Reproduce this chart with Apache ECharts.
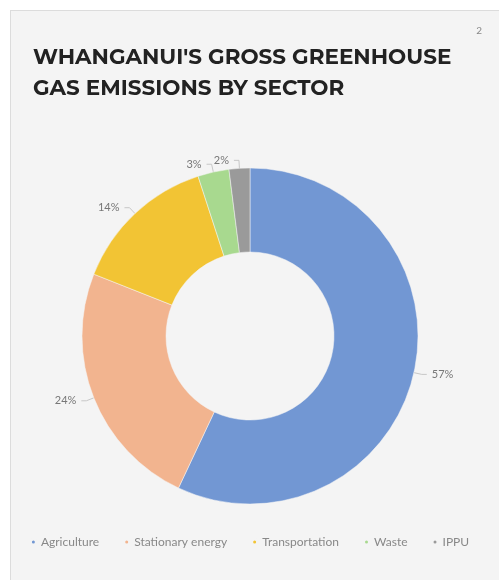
<!DOCTYPE html>
<html><head><meta charset="utf-8">
<script src="https://cdn.jsdelivr.net/npm/echarts@6/dist/echarts.min.js"></script>
<style>
html,body{margin:0;padding:0;background:#fff;}
#panel{position:absolute;left:10px;top:10px;width:495px;height:575px;background:#f4f4f4;border:1px solid #dcdcdc;box-sizing:border-box;}
#c{position:absolute;left:0;top:0;width:499px;height:580px;}
</style></head>
<body>
<div id="panel"></div>
<div id="c"></div>
<script>
const categories = ["Agriculture", "Stationary energy", "Transportation", "Waste", "IPPU"];
const shares = [57, 24, 14, 3, 2];
const colors = ["#7297d3", "#f2b48f", "#f2c434", "#a8d98f", "#9a9a9a"];
const titleText = "WHANGANUI'S GROSS GREENHOUSE\nGAS EMISSIONS BY SECTOR";

const chart = echarts.init(document.getElementById('c'), null, {renderer: 'canvas'});
chart.setOption({
  backgroundColor: 'transparent',
  title: [{
    text: titleText,
    left: 28, top: 37,
    textStyle: {fontFamily: 'Montserrat, "DejaVu Sans", sans-serif', fontWeight: 'bold', fontSize: 21.5, color: '#222', lineHeight: 31}
  }, {
    text: '2', right: 12, top: 21,
    textStyle: {fontFamily: 'Lato, sans-serif', fontSize: 10, color: '#888', fontWeight: 'normal'}
  }],
  legend: {
    bottom: 27, left: 'center',
    icon: 'circle', itemWidth: 5, itemHeight: 5, itemGap: 24,
    textStyle: {fontFamily: 'Lato, sans-serif', fontSize: 12, color: '#888'},
    data: categories
  },
  series: [{
    type: 'pie',
    center: [250, 336],
    radius: [84, 168],
    startAngle: 90,
    clockwise: true,
    avoidLabelOverlap: false,
    itemStyle: {borderColor: '#f4f4f4', borderWidth: 0.5},
    label: {
      show: true, position: 'outside',
      formatter: p => p.value + '%',
      fontFamily: 'Lato, sans-serif', fontSize: 11, color: '#777'
    },
    labelLine: {show: true, length: 8, length2: 5, lineStyle: {color: '#bbb', width: 0.8}},
    data: categories.map((n, i) => ({name: n, value: shares[i], itemStyle: {color: colors[i]}}))
  }]
});
</script>
</body></html>
